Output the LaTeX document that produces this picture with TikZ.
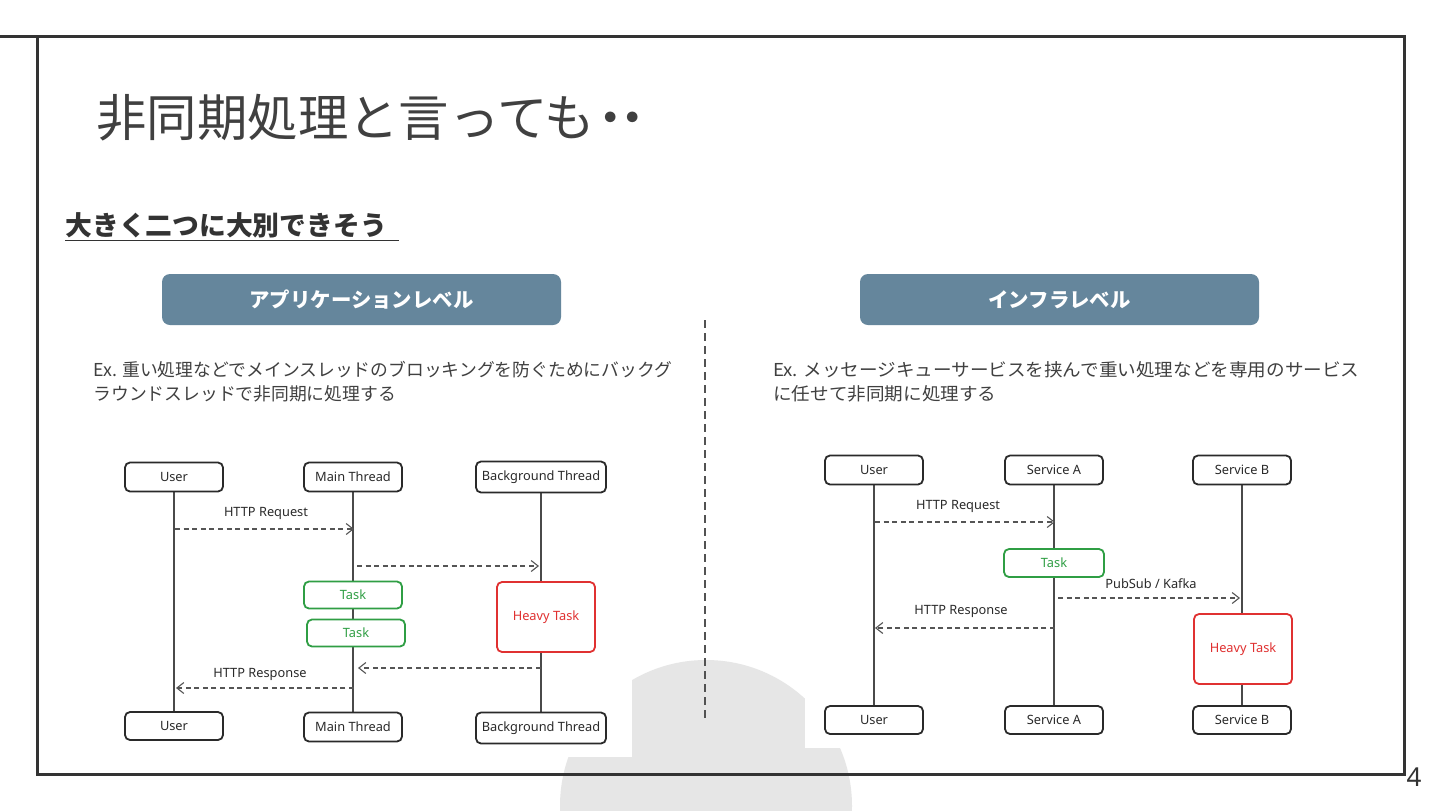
\documentclass[tikz,border=0pt]{standalone}
\usepackage{fontspec}
\setmainfont{Noto Sans}
\newfontfamily\jp{Noto Sans CJK JP}
\usetikzlibrary{arrows.meta}
\definecolor{framec}{HTML}{333333}
\definecolor{txt}{HTML}{404040}
\definecolor{hdr}{HTML}{65869C}
\definecolor{tgreen}{HTML}{2F9E44}
\definecolor{tred}{HTML}{E03131}
\definecolor{ink}{HTML}{2A2A2A}
\definecolor{circ}{HTML}{E6E6E6}
\definecolor{arrowc}{HTML}{555555}
\newcommand\dfont{\fontsize{6.4}{7.2}\selectfont}
\pgfdeclarelayer{bg}
\pgfdeclarelayer{lines}
\pgfsetlayers{bg,lines,main}
\tikzset{
  act/.style={draw=ink, line width=0.9pt, rounded corners=2.5pt, fill=white,
    font=\dfont, text=ink, inner sep=0pt, minimum width=49pt, minimum height=14.5pt},
  wideact/.style={act, minimum width=65pt, minimum height=15.5pt},
  taskbox/.style={act, draw=tgreen, text=tgreen, minimum height=13.5pt},
  heavybox/.style={act, draw=tred, text=tred, minimum height=35pt},
  life/.style={draw=ink!85, line width=0.7pt},
  msg/.style={draw=arrowc, line width=0.55pt, dash pattern=on 2.5pt off 1.8pt,
    -{Straight Barb[length=3.5pt,width=5.5pt]}},
  lbl/.style={font=\dfont, text=ink, inner sep=0pt},
  hdrbox/.style={fill=hdr, rounded corners=4pt, minimum width=199.5pt, minimum height=25.5pt,
    inner sep=0pt, text=white, font=\jp\bfseries\fontsize{10.2}{12}\selectfont},
  desc/.style={anchor=base west, inner sep=0pt, text=txt, font=\jp\fontsize{8.9}{11}\selectfont},
  framec/.style={draw=framec, line width=1.5pt},
}
\begin{document}
\begin{tikzpicture}[x=0.5pt,y=-0.5pt]
\useasboundingbox (0,0) rectangle (1440,810);
\clip (0,0) rectangle (1440,810);
\begin{pgfonlayer}{bg}
  \fill[white] (0,0) rectangle (1440,810);
  \fill[circ] (706,806) circle (73pt);
  \fill[white] (90,448) rectangle (632,757);
  \fill[white] (805,443) rectangle (1330,748);
\end{pgfonlayer}

% slide frame
\draw[framec] (0,36) -- (1404,36) -- (1404,774) -- (37,774) -- (37,36);

% title and headings
\node[anchor=base west, inner sep=0pt, text=txt, font=\jp\fontsize{25.2}{28}\selectfont] (title) at (96,136) {非同期処理と言っても\kern-0.2em・\kern-0.55em・};
\node[anchor=base west, inner sep=0pt, text=framec, font=\jp\bfseries\fontsize{13.4}{15}\selectfont] (sub) at (65,235) {\underline{大きく二つに大別できそう\hspace{6pt}}};

\node[hdrbox] (hL) at (361.5,299.5) {アプリケーションレベル};
\node[hdrbox] (hR) at (1059.5,299.5) {インフラレベル};

\node[desc] (dL1) at (93,376) {Ex. 重い処理などでメインスレッドのブロッキングを防ぐためにバックグ};
\node[desc] (dL2) at (93,400) {ラウンドスレッドで非同期に処理する};
\node[desc] (dR1) at (773,376) {\scalebox{1.044}[1]{Ex. メッセージキューサービスを挟んで重い処理などを専用のサービス}};
\node[desc] (dR2) at (773,400) {\scalebox{1.044}[1]{に任せて非同期に処理する}};

% divider
\coordinate (divT) at (705,320);
\coordinate (divB) at (705,722);
\draw[draw=framec!85, line width=0.6pt, dash pattern=on 4pt off 2.5pt] (divT) -- (divB);

% ---------- left diagram ----------
\node[act] (uT) at (174,477) {User};
\node[act] (mT) at (353,477) {Main Thread};
\node[wideact] (bT) at (541,477) {Background Thread};
\node[act, minimum height=14pt] (uB) at (174,726) {User};
\node[act] (mB) at (353,727) {Main Thread};
\node[wideact] (bB) at (541,728) {Background Thread};
\node[taskbox] (t1) at (353,595) {Task};
\node[taskbox] (t2) at (356,633) {Task};
\node[heavybox] (hv) at (546,617) {Heavy Task};

\begin{pgfonlayer}{lines}
  \draw[life] (uT) -- (uB);
  \draw[life] (mT) -- (mB);
  \draw[life] (bT) -- (bB);
\end{pgfonlayer}

\coordinate (lreqA) at (175,529);
\coordinate (lreqB) at (354,529);
\coordinate (lfwdA) at (357,566);
\coordinate (lfwdB) at (539,566);
\coordinate (lbckA) at (541,668);
\coordinate (lbckB) at (358,668);
\coordinate (lrspA) at (354,688);
\coordinate (lrspB) at (176,688);
\draw[msg] (lreqA) -- (lreqB);
\draw[msg] (lfwdA) -- (lfwdB);
\draw[msg] (lbckA) -- (lbckB);
\draw[msg] (lrspA) -- (lrspB);
\node[lbl] (lreqL) at (266,513) {HTTP Request};
\node[lbl] (lrspL) at (260,674) {HTTP Response};

% ---------- right diagram ----------
\node[act] (uT2) at (874,470) {User};
\node[act] (aT2) at (1054,470) {Service A};
\node[act] (sT2) at (1242,470) {Service B};
\node[act, minimum height=14pt] (uB2) at (874,720) {User};
\node[act, minimum height=14pt] (aB2) at (1054,720) {Service A};
\node[act, minimum height=14pt] (sB2) at (1242,720) {Service B};
\node[taskbox, minimum width=50pt, minimum height=14pt] (t3) at (1054,563) {Task};
\node[heavybox] (hv2) at (1243,649) {Heavy Task};

\begin{pgfonlayer}{lines}
  \draw[life] (uT2) -- (uB2);
  \draw[life] (aT2) -- (aB2);
  \draw[life] (sT2) -- (sB2);
\end{pgfonlayer}

\coordinate (rreqA) at (875,522);
\coordinate (rreqB) at (1055,522);
\coordinate (rpubA) at (1058,598);
\coordinate (rpubB) at (1240,598);
\coordinate (rrspA) at (1055,628);
\coordinate (rrspB) at (875,628);
\draw[msg] (rreqA) -- (rreqB);
\draw[msg] (rpubA) -- (rpubB);
\draw[msg] (rrspA) -- (rrspB);
\node[lbl] (rreqL) at (958,506) {HTTP Request};
\node[lbl] (rpubL) at (1151,584) {PubSub / Kafka};
\node[lbl] (rrspL) at (961,611) {HTTP Response};

% page number
\node[inner sep=0pt, text=framec, font=\fontsize{13}{15}\selectfont] (pg) at (1414,777) {4};
\end{tikzpicture}
\end{document}
